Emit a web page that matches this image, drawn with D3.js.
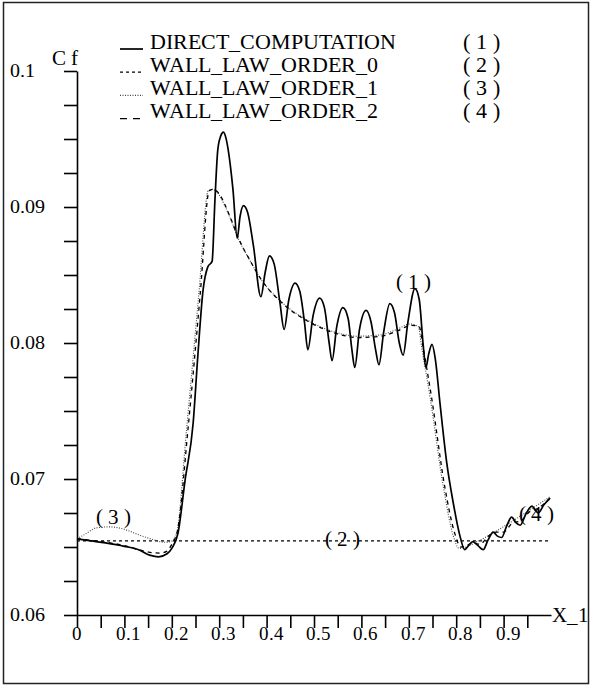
<!DOCTYPE html>
<html><head><meta charset="utf-8"><script src="https://cdn.jsdelivr.net/npm/d3@7"></script>
<style>
  @font-face { font-family: "ChartSerif"; src: local("Liberation Serif"), local("LiberationSerif"), local("Times New Roman"); }
</style>
</head>
<body style="margin:0">
<svg id="chart" width="592" height="686"></svg>
<script>
// ---------- data ----------
const seriesNames = ["DIRECT_COMPUTATION", "WALL_LAW_ORDER_0", "WALL_LAW_ORDER_1", "WALL_LAW_ORDER_2"];
const seriesTags = ["( 1 )", "( 2 )", "( 3 )", "( 4 )"];

const directComputation = [
  [0, 0.0656], [0.03, 0.06545], [0.06, 0.0653], [0.1, 0.06505], [0.13, 0.0648], [0.155, 0.06438],
  [0.172, 0.06428], [0.19, 0.0645], [0.2, 0.0649], [0.213, 0.066], [0.228, 0.0699], [0.245, 0.0741],
  [0.255, 0.0791], [0.266, 0.0839], [0.276, 0.0856], [0.285, 0.086], [0.291, 0.0905], [0.297, 0.0942],
  [0.303, 0.0952], [0.309, 0.0955], [0.314, 0.0951], [0.319, 0.0942], [0.329, 0.0913], [0.338, 0.0877],
  [0.344, 0.0893], [0.351, 0.0901], [0.36, 0.0896], [0.372, 0.0872], [0.388, 0.0834], [0.397, 0.0852],
  [0.406, 0.0864], [0.416, 0.0858], [0.428, 0.083], [0.437, 0.081], [0.447, 0.0832], [0.46, 0.0844],
  [0.47, 0.0838], [0.48, 0.0815], [0.487, 0.0795], [0.498, 0.082], [0.512, 0.0833], [0.522, 0.0826],
  [0.532, 0.08], [0.538, 0.0787], [0.548, 0.0812], [0.561, 0.0826], [0.572, 0.0818], [0.58, 0.0795],
  [0.586, 0.0782], [0.596, 0.081], [0.61, 0.0824], [0.62, 0.0816], [0.63, 0.0795], [0.637, 0.0784],
  [0.647, 0.0808], [0.66, 0.0829], [0.67, 0.0822], [0.68, 0.08], [0.688, 0.0791], [0.698, 0.0815],
  [0.713, 0.084], [0.722, 0.0832], [0.73, 0.08], [0.736, 0.0782], [0.742, 0.0792], [0.749, 0.0799],
  [0.756, 0.0788], [0.766, 0.0755], [0.78, 0.0712], [0.794, 0.0682], [0.808, 0.0658], [0.818, 0.0648],
  [0.826, 0.0651], [0.835, 0.0654], [0.846, 0.0651], [0.857, 0.0648], [0.867, 0.0655], [0.878, 0.0661],
  [0.887, 0.0658], [0.896, 0.0657], [0.906, 0.0665], [0.917, 0.0672], [0.926, 0.0668], [0.935, 0.0666],
  [0.948, 0.0675], [0.96, 0.068], [0.967, 0.0677], [0.973, 0.0675], [0.985, 0.0681], [0.998, 0.0686]
];

const wallLawOrder0 = [[0, 0.06545], [0.995, 0.06545]];

const wallLawOrder1 = [
  [0, 0.0656], [0.02, 0.066], [0.04, 0.0664], [0.07, 0.06648], [0.1, 0.0663], [0.13, 0.0659],
  [0.16, 0.06555], [0.185, 0.06535], [0.198, 0.0654], [0.21, 0.066], [0.231, 0.0736], [0.257, 0.0836],
  [0.277, 0.0912], [0.286, 0.0913], [0.297, 0.091], [0.323, 0.0892], [0.34, 0.0877], [0.361, 0.0863],
  [0.386, 0.0848], [0.432, 0.083], [0.485, 0.0817], [0.555, 0.0807], [0.59, 0.0805], [0.64, 0.0806],
  [0.675, 0.081], [0.703, 0.0814], [0.72, 0.0812], [0.727, 0.0797], [0.745, 0.076], [0.773, 0.0694],
  [0.794, 0.0658], [0.806, 0.0649], [0.85, 0.0655], [0.9, 0.0665], [0.95, 0.0676], [0.998, 0.0687]
];

const wallLawOrder2 = [
  [0, 0.0656], [0.05, 0.0654], [0.1, 0.0651], [0.13, 0.0648], [0.16, 0.06458], [0.175, 0.06455],
  [0.19, 0.0647], [0.2, 0.0652], [0.212, 0.0662], [0.234, 0.0736], [0.26, 0.0836], [0.279, 0.0912],
  [0.288, 0.0913], [0.299, 0.091], [0.325, 0.0891], [0.342, 0.0876], [0.363, 0.0862], [0.388, 0.0847],
  [0.434, 0.0829], [0.487, 0.0816], [0.557, 0.0806], [0.592, 0.0804], [0.642, 0.0805], [0.677, 0.0809],
  [0.705, 0.0813], [0.722, 0.0812], [0.73, 0.0797], [0.748, 0.076], [0.776, 0.0694], [0.797, 0.066],
  [0.81, 0.065], [0.822, 0.0651], [0.835, 0.0653], [0.85, 0.0652], [0.868, 0.0658], [0.885, 0.0661],
  [0.9, 0.0661], [0.92, 0.0668], [0.935, 0.0669], [0.955, 0.0676], [0.97, 0.0678], [0.998, 0.0686]
];

const xTickValues = [0, 0.05, 0.1, 0.15, 0.2, 0.25, 0.3, 0.35, 0.4, 0.45, 0.5, 0.55, 0.6, 0.65, 0.7, 0.75, 0.8, 0.85, 0.9, 0.95];
const xTickLabels = ["0", "0.1", "0.2", "0.3", "0.4", "0.5", "0.6", "0.7", "0.8", "0.9"];
const yTickValues = d3.range(0, 17).map(i => 0.06 + i * 0.0025);
const yTickLabels = ["0.06", "0.07", "0.08", "0.09", "0.1"];

// annotation positions in data units
const tagPositions = [[0.71, 0.0840, 0], [0.56, 0.06508, 1], [0.077, 0.0667, 2], [0.97, 0.0669, 3]];

// ---------- drawing ----------
const svg = d3.select("#chart");
const x = d3.scaleLinear().domain([0, 1]).range([77, 551]);
const y = d3.scaleLinear().domain([0.06, 0.1]).range([615, 71]);

// outer frame
svg.append("rect").attr("x", 3.5).attr("y", 2.5).attr("width", 585).attr("height", 681)
  .attr("fill", "none").attr("stroke", "#222").attr("stroke-width", 1.5);

// axes (ticks only; labels drawn separately)
const yAxis = d3.axisLeft(y).tickValues(yTickValues).tickSize(13).tickSizeOuter(0).tickFormat("");
const xAxis = d3.axisBottom(x).tickValues(xTickValues).tickSize(13).tickSizeOuter(0).tickFormat("");
const gy = svg.append("g").attr("transform", "translate(77,0)").call(yAxis);
const gx = svg.append("g").attr("transform", "translate(0,615)").call(xAxis);
[gy, gx].forEach(g => {
  g.attr("font-family", null);
  g.selectAll("path, line").attr("stroke", "#000").attr("stroke-width", 1.6);
  g.selectAll("text").remove();
});

const FONT = "ChartSerif, 'Liberation Serif', 'Times New Roman', serif";
function label(parent, str, px, py, size, anchor) {
  return parent.append("text").attr("x", px).attr("y", py)
    .attr("text-anchor", anchor || "start")
    .style("font-family", FONT, "important")
    .style("font-size", size + "px", "important")
    .style("fill", "#000").text(str);
}

// y tick labels
const gyl = svg.append("g");
yTickLabels.forEach(d => label(gyl, d, 10, y(+d) + 6, 20));

// x tick labels
const gxl = svg.append("g");
xTickLabels.forEach(d => label(gxl, d, +d === 0 ? x(0) : x(+d) - 8, 640, 19, +d === 0 ? "middle" : "start"));

// axis titles
label(svg, "C f", 52, 65, 21);
label(svg, "X_1", 552, 622, 21);

// curves
const line = d3.line().x(d => x(d[0])).y(d => y(d[1])).curve(d3.curveMonotoneX);
const styles = [
  { data: directComputation, dash: null, width: 1.7, color: "#000" },
  { data: wallLawOrder0, dash: "3,3", width: 1.3, color: "#000" },
  { data: wallLawOrder1, dash: "1,1.5", width: 1.1, color: "#444" },
  { data: wallLawOrder2, dash: "4,4", width: 1.3, color: "#000" }
];
[1, 2, 3, 0].forEach(i => {
  const s = styles[i];
  svg.append("path").datum(s.data).attr("d", line)
    .attr("fill", "none").attr("stroke", s.color).attr("stroke-width", s.width)
    .attr("stroke-dasharray", s.dash);
});

// annotations
const ga = svg.append("g");
tagPositions.forEach(d => label(ga, seriesTags[d[2]], x(d[0]), y(d[1]), 21, "middle"));

// legend
const leg = svg.append("g");
seriesNames.forEach((name, i) => {
  const by = 48.5 + i * 23.2;
  const s = styles[i];
  leg.append("line").attr("x1", 120).attr("x2", 143).attr("y1", by + 0.5).attr("y2", by + 0.5)
    .attr("stroke", s.color).attr("stroke-width", s.width).attr("stroke-dasharray", i === 3 ? "7,6" : s.dash);
  label(leg, name, 150, by, 22);
  label(leg, seriesTags[i], 463, by, 22);
});
</script>
</body>
</html>
